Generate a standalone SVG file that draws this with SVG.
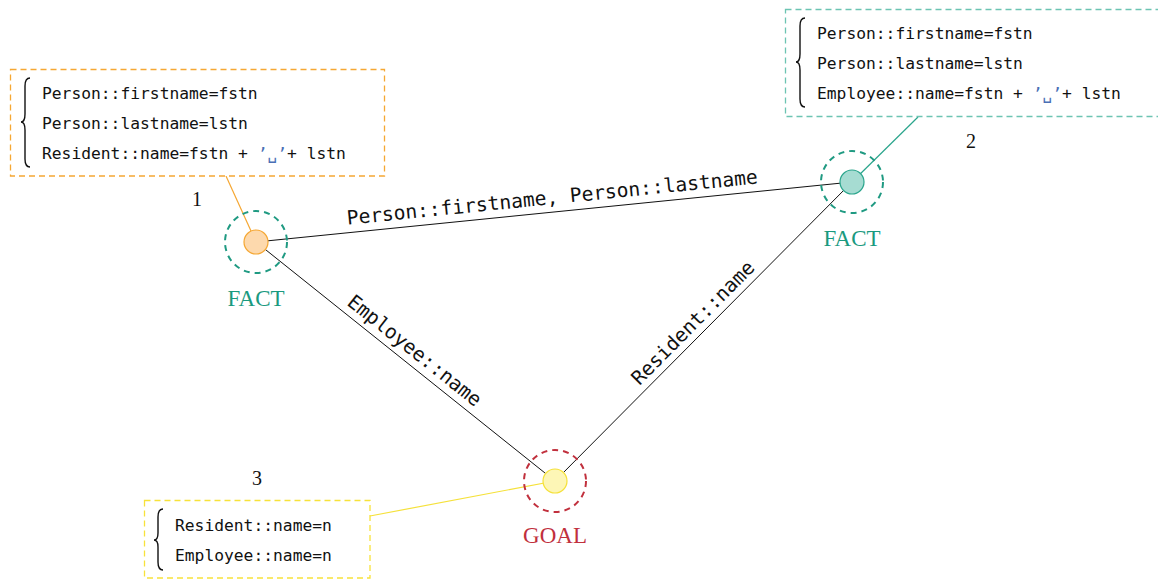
<svg xmlns="http://www.w3.org/2000/svg" width="1158" height="580" viewBox="0 0 1158 580">
  <style>
    .mono { font-family: "DejaVu Sans Mono", "Liberation Mono", monospace; fill: #111; }
    .box-text { font-size: 16.3px; }
    .edge-label { font-size: 19.6px; text-anchor: middle; }
    .serif { font-family: "Liberation Serif", "DejaVu Serif", serif; text-anchor: middle; }
    .num { font-size: 20px; fill: #111; }
    .kind { font-size: 23px; }
    .sp { fill: #4a6fb5; }
    .brace { fill: none; stroke: #111; stroke-width: 1.4; }
    .ring { fill: none; stroke-width: 2; stroke-dasharray: 6 5; }
    .edge { stroke: #111; stroke-width: 1; }
    .box { fill: #fff; stroke-width: 1.3; stroke-dasharray: 6 4; }
  </style>

  <!-- connectors between nodes, and leader lines to the constraint boxes -->
  <g id="connectors">
    <line class="edge" x1="256" y1="242" x2="852" y2="182"/>
    <line class="edge" x1="256" y1="242" x2="555" y2="481"/>
    <line class="edge" x1="555" y1="481" x2="852" y2="182"/>
    <line x1="226" y1="176" x2="256" y2="242" stroke="#f5a733" stroke-width="1.2"/>
    <line x1="918" y1="117" x2="852" y2="182" stroke="#2aa58c" stroke-width="1.2"/>
    <line x1="370" y1="516" x2="555" y2="481" stroke="#f5e13a" stroke-width="1.2"/>
    <text class="mono edge-label" transform="translate(552.8,204.1) rotate(-5.75)">Person::firstname, Person::lastname</text>
    <text class="mono edge-label" transform="translate(410.5,355.7) rotate(38.64)">Employee::name</text>
    <text class="mono edge-label" transform="translate(697.6,327.5) rotate(-45.19)">Resident::name</text>
  </g>

  <!-- fact node 1 -->
  <g id="node1">
    <circle class="ring" cx="256" cy="242" r="31" stroke="#1f9a82"/>
    <circle cx="256" cy="242" r="12" fill="#fdd9ad" stroke="#f5a733" stroke-width="1.2"/>
    <text class="serif kind" x="256" y="306" fill="#1a9a7f">FACT</text>
    <text class="serif num" x="197" y="206">1</text>
  </g>

  <!-- fact node 2 -->
  <g id="node2">
    <circle class="ring" cx="852" cy="182" r="31" stroke="#1f9a82"/>
    <circle cx="852" cy="182" r="12" fill="#a6dcd2" stroke="#2aa58c" stroke-width="1.2"/>
    <text class="serif kind" x="852" y="246" fill="#1a9a7f">FACT</text>
    <text class="serif num" x="971" y="148">2</text>
  </g>

  <!-- goal node 3 -->
  <g id="node3">
    <circle class="ring" cx="555" cy="481" r="31" stroke="#c1303d"/>
    <circle cx="555" cy="481" r="12" fill="#fdf6b6" stroke="#f5e13a" stroke-width="1.2"/>
    <text class="serif kind" x="555" y="543" fill="#c1303d" font-size="24">GOAL</text>
    <text class="serif num" x="257" y="485">3</text>
  </g>

  <!-- constraint box for node 1 -->
  <g id="box1">
    <rect class="box" x="10.5" y="69.5" width="374" height="106.5" stroke="#f5a733"/>
    <path class="brace" d="M30,78 Q25,78 25,86 L25,114 Q25,122 21,122 Q25,122 25,130 L25,159 Q25,167 30,167"/>
    <text class="mono box-text" x="42" y="99">Person::firstname=fstn</text>
    <text class="mono box-text" x="42" y="129">Person::lastname=lstn</text>
    <text class="mono box-text" x="42" y="159">Resident::name=fstn + <tspan class="sp">’␣’</tspan>+ lstn</text>
  </g>

  <!-- constraint box for node 2 -->
  <g id="box2">
    <rect class="box" x="785.5" y="9.5" width="380" height="107" stroke="#6cc4b2"/>
    <path class="brace" d="M805,18 Q800,18 800,26 L800,54 Q800,62 796,62 Q800,62 800,70 L800,99 Q800,107 805,107"/>
    <text class="mono box-text" x="817" y="39">Person::firstname=fstn</text>
    <text class="mono box-text" x="817" y="69">Person::lastname=lstn</text>
    <text class="mono box-text" x="817" y="99">Employee::name=fstn + <tspan class="sp">’␣’</tspan>+ lstn</text>
  </g>

  <!-- constraint box for the goal -->
  <g id="box3">
    <rect class="box" x="144.5" y="500.5" width="225.5" height="77.5" stroke="#f7e23a"/>
    <path class="brace" d="M163,509 Q158,509 158,517 L158,533 Q158,540 154,540 Q158,540 158,547 L158,562 Q158,570 163,570"/>
    <text class="mono box-text" x="175" y="531">Resident::name=n</text>
    <text class="mono box-text" x="175" y="561">Employee::name=n</text>
  </g>
</svg>
